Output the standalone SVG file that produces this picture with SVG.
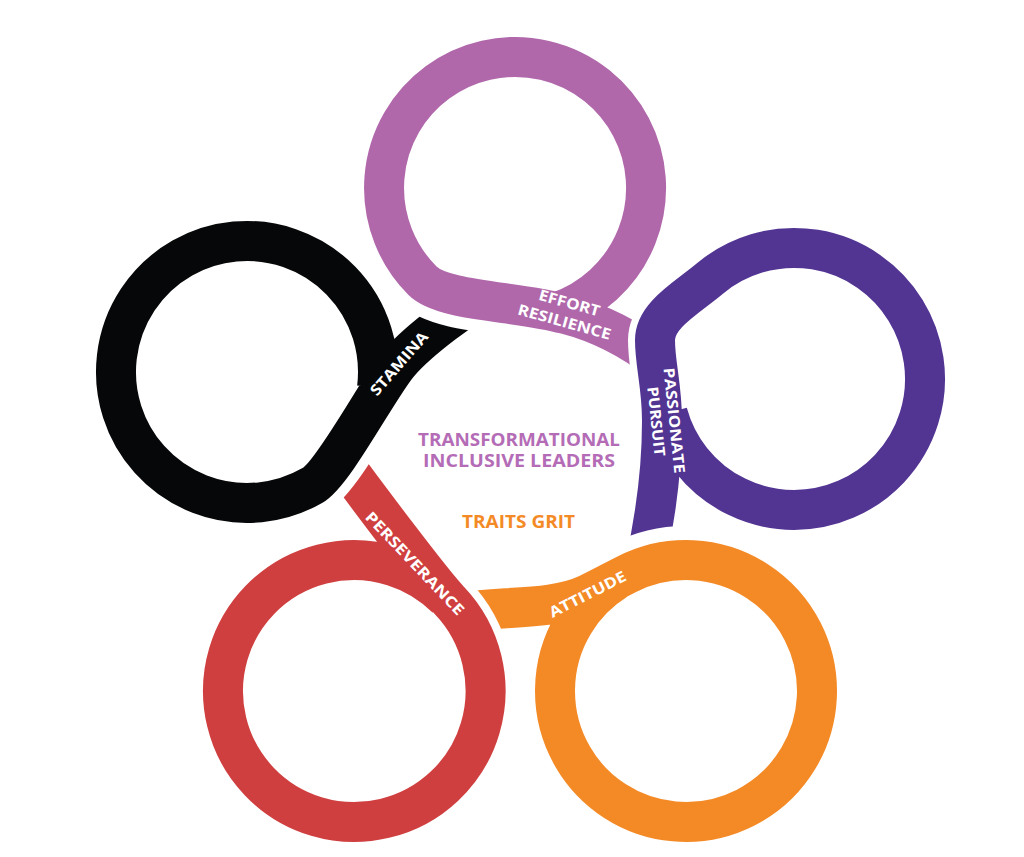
<svg xmlns="http://www.w3.org/2000/svg" width="1024" height="857" viewBox="0 0 1024 857">
<style>
.lbl{font-family:"Open Sans","Liberation Sans",sans-serif;font-weight:700;font-size:15px;fill:#ffffff;text-anchor:middle}
.ctr{font-family:"Open Sans","Liberation Sans",sans-serif;font-weight:700;font-size:18px;text-anchor:middle}
.s{fill:none;stroke-linecap:butt;stroke-linejoin:round}
</style>
<defs>
<path id="pu" d="M660 362C630 338 600 323 565 314C516.8 300.7 443.6 301.8 422.4 280.6A131 131 0 1 1 557.6 311.9"/>
<path id="dk" d="M645 565C655 520 662 470 662 421C662 385 655 365 655 340C655 315 686.8 297.9 709.8 278.6A131 131 0 1 1 667.5 412.9"/>
<path id="or" d="M462 612C505 606 555 610 588 594C601.5 587.4 613.1 581.1 626.5 574.3A131 131 0 0 1 816.8 697.9A131 131 0 0 1 614.7 800.9A131 131 0 0 1 616.6 579.9"/>
<path id="rd" d="M335 452C370 500 432.2 582.4 449.4 600.5A131 131 0 0 1 384.6 818.4A131 131 0 0 1 228.4 653.8A131 131 0 0 1 446.6 598.4"/>
<path id="bk" d="M495 290C465 305 418.7 340.4 399 363C379.3 385.7 334.2 472.9 312.5 485.4A131 131 0 1 1 377 388"/>
<mask id="m-pu" maskUnits="userSpaceOnUse" x="0" y="0" width="1024" height="857">
<rect width="1024" height="857" fill="#fff"/>
<use href="#dk" class="s" stroke="#000" stroke-width="54"/>
</mask>
<mask id="m-dk" maskUnits="userSpaceOnUse" x="0" y="0" width="1024" height="857">
<rect width="1024" height="857" fill="#fff"/>
<use href="#or" class="s" stroke="#000" stroke-width="68"/>
</mask>
<mask id="m-or" maskUnits="userSpaceOnUse" x="0" y="0" width="1024" height="857">
<rect width="1024" height="857" fill="#fff"/>
<use href="#rd" class="s" stroke="#000" stroke-width="56"/>
</mask>
<mask id="m-rd" maskUnits="userSpaceOnUse" x="0" y="0" width="1024" height="857">
<rect width="1024" height="857" fill="#fff"/>
<use href="#bk" class="s" stroke="#000" stroke-width="60"/>
</mask>
<mask id="m-bk" maskUnits="userSpaceOnUse" x="0" y="0" width="1024" height="857">
<rect width="1024" height="857" fill="#fff"/>
<use href="#pu" class="s" stroke="#000" stroke-width="64"/>
</mask>
</defs>
<rect width="1024" height="857" fill="#ffffff"/>
<g id="node-effort">
<use href="#pu" class="s" stroke="#b068ab" stroke-width="40" mask="url(#m-pu)"/>
<text class="lbl" transform="translate(568 308) rotate(15.5)" textLength="63" lengthAdjust="spacingAndGlyphs">EFFORT</text>
<text class="lbl" transform="translate(563 327) rotate(15.5)" textLength="96" lengthAdjust="spacingAndGlyphs">RESILIENCE</text>
</g>
<g id="node-passionate">
<use href="#dk" class="s" stroke="#523493" stroke-width="40" mask="url(#m-dk)"/>
<text class="lbl" transform="translate(669 421) rotate(84)" textLength="106" lengthAdjust="spacingAndGlyphs">PASSIONATE</text>
<text class="lbl" transform="translate(651 422) rotate(84)" textLength="70" lengthAdjust="spacingAndGlyphs">PURSUIT</text>
</g>
<g id="node-attitude">
<use href="#or" class="s" stroke="#f48a26" stroke-width="40" mask="url(#m-or)"/>
<text class="lbl" transform="translate(590 599) rotate(-27)" textLength="84" lengthAdjust="spacingAndGlyphs">ATTITUDE</text>
</g>
<g id="node-perseverance">
<use href="#rd" class="s" stroke="#d03f3f" stroke-width="40" mask="url(#m-rd)"/>
<text class="lbl" transform="translate(411 567) rotate(46.5)" textLength="136" lengthAdjust="spacingAndGlyphs">PERSEVERANCE</text>
</g>
<g id="node-stamina">
<use href="#bk" class="s" stroke="#060708" stroke-width="40" mask="url(#m-bk)"/>
<text class="lbl" transform="translate(403 367) rotate(-49)" textLength="79" lengthAdjust="spacingAndGlyphs">STAMINA</text>
</g>
<g id="node-center">
<text class="ctr" x="519" y="446" fill="#b46cb6" textLength="202" lengthAdjust="spacingAndGlyphs">TRANSFORMATIONAL</text>
<text class="ctr" x="519" y="467" fill="#b46cb6" textLength="192" lengthAdjust="spacingAndGlyphs">INCLUSIVE LEADERS</text>
<text class="ctr" x="518.5" y="528" fill="#f48a26" textLength="113" lengthAdjust="spacingAndGlyphs">TRAITS GRIT</text>
</g>
</svg>
